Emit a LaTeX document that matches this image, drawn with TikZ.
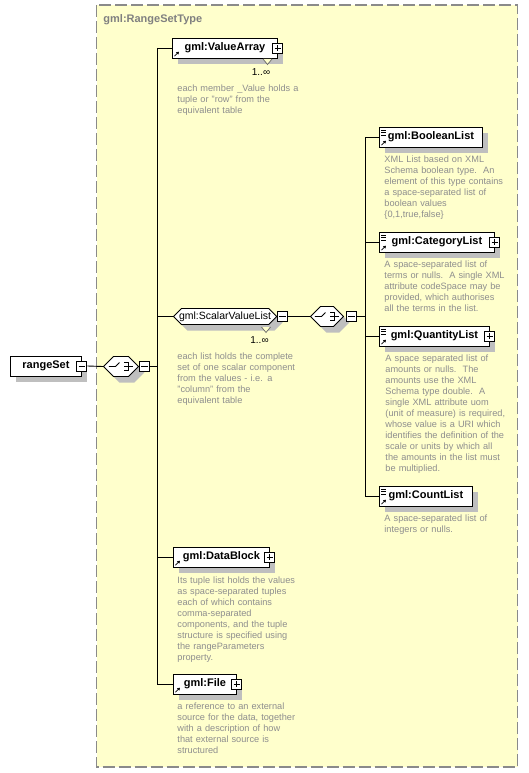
\documentclass[tikz,border=0pt]{standalone}
\usepackage{fontspec}
\setmainfont{Liberation Sans}
\usetikzlibrary{shapes.misc,shadows,arrows.meta}
\definecolor{bgyellow}{HTML}{FFFFCC}
\definecolor{descgray}{HTML}{8E8E8E}
\definecolor{framegray}{HTML}{8A8A8A}

\tikzset{
  shade/.style={drop shadow={shadow xshift=6pt,shadow yshift=-6pt,opacity=1,fill=black!25}},
  refmark/.style={path picture={
    \draw[line width=0.8pt,-{Triangle[length=2.6pt,width=3.2pt]}] (path picture bounding box.south west) ++(2,-1.8) -- ++(4.5,-4.5);}},
  listmark/.style={path picture={
    \draw[line width=0.8pt,-{Triangle[length=2.6pt,width=3.2pt]}] (path picture bounding box.south west) ++(2,-1.8) -- ++(4.5,-4.5);
    \foreach \d in {3.3,5.6,8} \draw[line width=0.8pt] (path picture bounding box.north west) ++(2,\d) -- ++(5,0);}},
  elem/.style={draw, fill=white, anchor=west, minimum height=20, inner sep=0pt, shade,
    font=\fontsize{11}{13}\selectfont\bfseries},
  complex/.style={chamfered rectangle, chamfered rectangle xsep=4pt, chamfered rectangle ysep=4pt,
    draw, fill=white, anchor=west, text height=6.5pt, text depth=1.5pt, inner ysep=0pt, inner xsep=1.6pt, shade,
    font=\fontsize{10.5}{12}\selectfont},
  choice/.style={chamfered rectangle, chamfered rectangle xsep=5pt, chamfered rectangle ysep=5pt,
    draw, fill=white, anchor=west, inner ysep=5pt, inner xsep=#1, shade,
    path picture={
      \coordinate (c) at (path picture bounding box.center);
      \draw[line width=0.9pt] (c) ++(-12,0) -- ++(6.5,0) -- ++(4,-4);
      \foreach \d in {-4,0,4} \fill (c) ++(0,\d) ++(0,-1) rectangle ++(2.2,2.2);
      \draw[line width=0.9pt] (c) ++(3.5,-4) -- ++(4,0) -- ++(0,8) -- ++(-4,0) (c) ++(3.5,0) -- ++(8.5,0);}},
  signbox/.style={draw, fill=white, minimum size=10, inner sep=0pt},
  plus/.style={signbox, path picture={
    \draw (path picture bounding box.center) ++(-3.2,0) -- ++(6.4,0)
          (path picture bounding box.center) ++(0,-3.2) -- ++(0,6.4);}},
  minus/.style={signbox, path picture={
    \draw (path picture bounding box.center) ++(-3.2,0) -- ++(6.4,0);}},
  desc/.style={anchor=base west, align=left, text width=140, inner sep=0pt, text=descgray,
    font=\fontsize{9.2}{11}\selectfont},
  mult/.style={font=\fontsize{10}{12}\selectfont, inner sep=0pt}
}

\begin{document}
\begin{tikzpicture}[x=1pt,y=-1pt,line width=0.9pt]
\useasboundingbox (0,0) rectangle (528,773);
% type frame
\draw[framegray, fill=bgyellow, line width=1.2pt, dash pattern=on 12pt off 4pt] (96.5,5) rectangle (517.5,767);
\node[anchor=base west, text=black!50, inner sep=0pt, font=\fontsize{11}{13}\selectfont\bfseries] (title) at (103,23) {gml:RangeSetType};

% root and choices
\node[elem, minimum width=71] (rs) at (10,366) {rangeSet};
\node[minus] (rsS) at (rs.east) {};
\node[choice=12.5pt] (ch1) at (103,366.5) {};
\node[minus, anchor=west] (ch1S) at (ch1.east) {};

\node[elem, refmark, minimum width=105] (va) at (172,48) {gml:ValueArray};
\node[plus] (vaS) at (va.east) {};
\node[complex] (sv) at (173,316.5) {gml:ScalarValueList};
\node[minus, anchor=west] (svS) at (sv.east) {};
\node[elem, refmark, minimum width=96] (db) at (173,557) {gml:DataBlock};
\node[plus] (dbS) at (db.east) {};
\node[elem, refmark, minimum width=63] (fi) at (173,684) {gml:File};
\node[plus] (fiS) at (fi.east) {};

\node[choice=11.5pt] (ch2) at (310,316.5) {};
\node[minus, anchor=west] (ch2S) at ([xshift=2pt]ch2.east) {};

\node[elem, listmark, minimum width=103] (bool) at (379,137) {gml:BooleanList};
\node[elem, listmark, minimum width=115] (cat) at (379,242) {gml:CategoryList};
\node[plus] (catS) at (cat.east) {};
\node[elem, listmark, minimum width=110] (qty) at (379,336) {gml:QuantityList};
\node[plus] (qtyS) at (qty.east) {};
\node[elem, listmark, minimum width=93] (cnt) at (379,496) {gml:CountList};

% occurrences
\draw[black!60, fill=bgyellow, line width=0.7pt] (263,59) -- (267.5,64.5) -- (272,59);
\node[mult] (vaM) at (261,72) {1..∞};
\draw[black!60, fill=bgyellow, line width=0.7pt] (261.5,327) -- (266,332.5) -- (270.5,327);
\node[mult] (svM) at (259.5,340) {1..∞};

% connectors
\coordinate (t1) at (157,366.5);
\coordinate (t2) at (365,316.5);
\draw (rsS.east) -- (ch1.west);
\draw (ch1S.east) -- (t1);
\draw (t1 |- va.west) -- (t1 |- fi.west);
\foreach \n in {va,sv,db,fi} \draw (t1 |- \n.west) -- (\n.west);
\draw (svS.east) -- (ch2.west);
\draw (ch2S.east) -- (t2);
\draw (t2 |- bool.west) -- (t2 |- cnt.west);
\foreach \n in {bool,cat,qty,cnt} \draw (t2 |- \n.west) -- (\n.west);

% annotations
\node[desc] (vaD) at (177,91.5) {each member \_Value holds a\\tuple or "row" from the\\equivalent table};
\node[desc] (svD) at (177,359) {each list holds the complete\\set of one scalar component\\from the values - i.e. a\\"column" from the\\equivalent table};
\node[desc] (dbD) at (177,583) {Its tuple list holds the values\\as space-separated tuples\\each of which contains\\comma-separated\\components, and the tuple\\structure is specified using\\the rangeParameters\\property.};
\node[desc] (fiD) at (177,709.5) {a reference to an external\\source for the data, together\\with a description of how\\that external source is\\structured};
\node[desc] (boolD) at (384,162.5) {XML List based on XML\\Schema boolean type.\ \ An\\element of this type contains\\a space-separated list of\\boolean values\\\{0,1,true,false\}};
\node[desc] (catD) at (384,267.5) {A space-separated list of\\terms or nulls.\ \ A single XML\\attribute codeSpace may be\\provided, which authorises\\all the terms in the list.};
\node[desc] (qtyD) at (385,361.5) {A space separated list of\\amounts or nulls.\ \ The\\amounts use the XML\\Schema type double.\ \ A\\single XML attribute uom\\(unit of measure) is required,\\whose value is a URI which\\identifies the definition of the\\scale or units by which all\\the amounts in the list must\\be multiplied.};
\node[desc] (cntD) at (384,521) {A space-separated list of\\integers or nulls.};
\end{tikzpicture}
\end{document}
